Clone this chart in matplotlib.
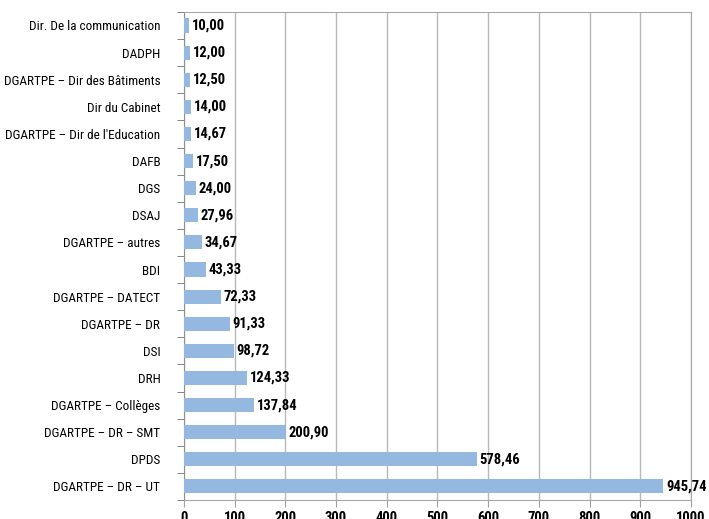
import matplotlib
matplotlib.use("Agg")
import matplotlib.pyplot as plt
from matplotlib import font_manager
import numpy as np

categories = ["Dir. De la communication", "DADPH", "DGARTPE – Dir des Bâtiments",
              "Dir du Cabinet", "DGARTPE – Dir de l'Education", "DAFB", "DGS", "DSAJ",
              "DGARTPE – autres", "BDI", "DGARTPE – DATECT", "DGARTPE – DR", "DSI",
              "DRH", "DGARTPE – Collèges", "DGARTPE – DR – SMT", "DPDS",
              "DGARTPE – DR – UT"]
values = [10.00, 12.00, 12.50, 14.00, 14.67, 17.50, 24.00, 27.96, 34.67, 43.33,
          72.33, 91.33, 98.72, 124.33, 137.84, 200.90, 578.46, 945.74]
xticks = [0, 100, 200, 300, 400, 500, 600, 700, 800, 900, 1000]

# pick a narrow font if one is there
names = {f.name for f in font_manager.fontManager.ttflist}
stretch = "normal"
fam = "DejaVu Sans"
for cand in ["Liberation Sans Narrow", "Roboto Condensed", "Open Sans Condensed"]:
    if cand in names:
        fam = cand
        break
else:
    cond = [f for f in font_manager.fontManager.ttflist
            if f.name == "DejaVu Sans" and f.stretch in ("condensed", 600, "semi-condensed")]
    if cond:
        stretch = "condensed"
plt.rcParams["font.family"] = fam
plt.rcParams["font.stretch"] = stretch

fig = plt.figure(figsize=(7.09, 5.19), dpi=100)
ax = fig.add_axes([0.2595, 0.0366, 0.7151, 0.9404])

y = np.arange(len(categories))[::-1]
ax.barh(y, values, height=0.52, color="#95B8E0", zorder=3)
for yi, v in zip(y, values):
    ax.text(v + 5, yi, f"{v:.2f}".replace(".", ","), va="center", ha="left",
            fontsize=10.5, fontweight="bold", zorder=4)

ax.set_xlim(0, 1000)
ax.set_ylim(-0.5, len(categories) - 0.5)
ax.set_xticks(xticks)
ax.set_xticklabels([str(t) for t in xticks], fontsize=10.5, fontweight="bold")
ax.set_yticks(y)
ax.set_yticklabels(categories, fontsize=9.5)
ax.set_yticks(np.arange(len(categories) + 1) - 0.5, minor=True)
ax.tick_params(axis="y", which="major", length=0, pad=17)
ax.tick_params(axis="y", which="minor", length=5, color="#707070")
ax.tick_params(axis="x", length=5, color="#A0A0A0", pad=3)
ax.grid(axis="x", color="#B8B8B8", linewidth=1, zorder=0)
for s in ax.spines.values():
    s.set_color("#A8A8A8")
ax.spines["left"].set_color("#909090")

fig.savefig("out.png", dpi=100)
